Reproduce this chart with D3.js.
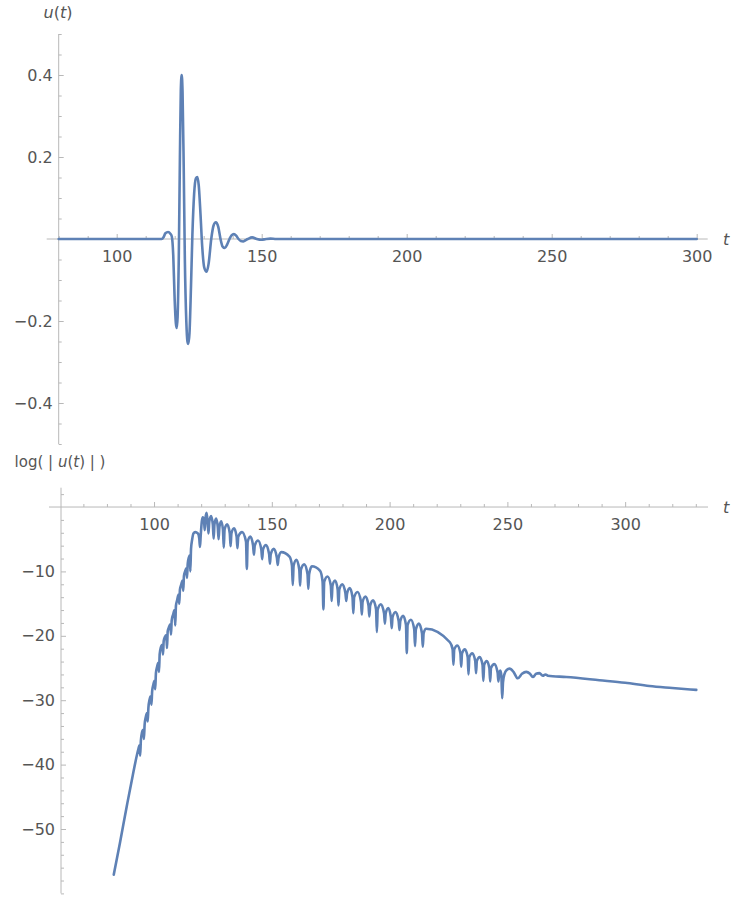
<!DOCTYPE html>
<html><head><meta charset="utf-8">
<script src="https://cdn.jsdelivr.net/npm/d3@7"></script>
<style>
html,body{margin:0;padding:0;background:#fff;}
svg{display:block;}
.tick text{font-family:"DejaVu Sans",sans-serif;font-size:16px;fill:#555;}
.lbl{font-family:"DejaVu Sans",sans-serif;font-size:16px;fill:#555;}
</style></head><body>
<svg id="chart" width="732" height="898"></svg>
<script>
// ---- data: u(t) (top panel) ----
const uPoints = [
  [80,0],[100,0],[115.5,0],[116.2,0.005],[116.8,0.014],[117.7,0.017],[118.5,0.013],[119.0,0.006],
  [119.5,-0.04],[120.0,-0.15],[120.4,-0.205],[120.7,-0.217],[121.0,-0.19],[121.4,-0.05],[121.8,0.2],
  [122.1,0.36],[122.4,0.40],[122.7,0.36],[123.1,0.18],[123.5,-0.05],[124.0,-0.2],[124.4,-0.25],
  [124.7,-0.256],[125.1,-0.23],[125.6,-0.12],[126.1,0.01],[126.7,0.11],[127.3,0.148],[127.8,0.151],
  [128.3,0.13],[128.9,0.06],[129.5,-0.02],[130.2,-0.07],[131.0,-0.08],[131.7,-0.06],[132.6,0.0],
  [133.4,0.033],[134.2,0.041],[135.0,0.03],[135.8,0.0],[136.5,-0.018],[137.3,-0.022],[138.1,-0.013],
  [138.9,0.0],[139.6,0.009],[140.4,0.012],[141.2,0.008],[142.0,0.0],[142.8,-0.005],[143.6,-0.006],
  [144.4,-0.003],[145.2,0.0],[146.7,0.004],[148.3,0.0],[149.9,-0.002],[151.5,0.0],[153,0.001],
  [155,0],[300,0]
];
// ---- data: log(|u(t)|) (bottom panel) ----
const logPoints = [
  [82.9,-57.1],[85.5,-52.2],[88.4,-46.5],[91.0,-41.6],[93.4,-37.5],[93.8,-37.0],[94.1,-38.6],[94.4,-36.3],
  [94.9,-35.0],[95.4,-34.6],[95.7,-36.0],[96.0,-33.8],[96.5,-32.6],[97.0,-32.0],[97.3,-33.3],[97.6,-31.2],
  [98.1,-29.9],[98.6,-29.4],[98.9,-30.7],[99.2,-28.6],[99.7,-27.6],[100.2,-27.0],[100.5,-28.3],[100.8,-25.8],
  [101.3,-24.8],[101.8,-24.2],[102.1,-25.6],[102.4,-22.8],[102.9,-21.8],[103.5,-21.4],[103.8,-22.9],[104.1,-20.8],
  [104.6,-20.2],[105.2,-19.9],[105.5,-21.9],[105.8,-19.3],[106.3,-18.7],[106.9,-18.2],[107.2,-19.8],[107.5,-17.6],
  [108.1,-16.7],[108.7,-16.0],[109.0,-18.4],[109.3,-15.3],[109.8,-14.5],[110.4,-13.6],[110.7,-15.0],[111.0,-12.8],
  [111.5,-12.1],[112.1,-11.4],[112.4,-13.0],[112.7,-10.7],[113.2,-10.0],[113.7,-9.5],[114.0,-11.0],[114.3,-8.8],
  [114.8,-7.8],[115.2,-7.5],[115.4,-10.0],[115.7,-6.5],[116.2,-5.0],[116.7,-4.1],[117.5,-3.9],[118.6,-4.1],
  [119.2,-4.9],[119.5,-6.2],[119.8,-4.5],[120.3,-2.2],[120.7,-1.6],[121.2,-2.0],[121.5,-3.6],[121.8,-1.8],
  [122.3,-0.9],[122.75,-2.3],[123.1,-4.1],[123.45,-2.3],[124.2,-1.4],
  [124.95,-2.7],[125.3,-4.9],[125.65,-2.7],[126.35,-1.8],
  [127.05,-3.1],[127.4,-5.0],[127.75,-3.1],[128.5,-2.2],
  [129.25,-3.5],[129.6,-6.3],[129.95,-3.5],[131.05,-2.7],
  [132.15,-4.1],[132.5,-6.1],[132.85,-4.1],[133.95,-3.3],
  [135.05,-4.6],[135.4,-6.4],[135.75,-4.6],[137.4,-3.9],
  [139.05,-5.4],[139.4,-9.6],[139.75,-5.4],[140.9,-4.6],
  [142.05,-6.0],[142.4,-7.4],[142.75,-6.0],[144.15,-5.2],
  [145.55,-6.6],[145.9,-8.1],[146.25,-6.6],[147.55,-5.9],
  [148.85,-7.3],[149.2,-8.8],[149.55,-7.3],[150.85,-6.5],
  [152.15,-7.9],[152.5,-9.0],[152.85,-7.9],[154.0,-7.0],[157.5,-7.7],
  [158.55,-9.1],[158.9,-12.1],[159.25,-9.1],[160.45,-8.2],
  [161.65,-9.7],[162.0,-12.2],[162.35,-9.7],[163.75,-8.9],
  [165.15,-10.4],[165.5,-12.7],[165.85,-10.4],[167.0,-9.2],[170.5,-9.9],
  [171.55,-11.6],[171.9,-15.9],[172.25,-11.6],[173.65,-10.8],
  [175.05,-12.2],[175.4,-14.6],[175.75,-12.2],[176.85,-11.4],
  [177.95,-12.8],[178.3,-15.3],[178.65,-12.8],[179.95,-12.0],
  [181.25,-13.4],[181.6,-14.6],[181.95,-13.4],[183.1,-12.6],
  [184.25,-14.0],[184.6,-16.5],[184.95,-14.0],[186.4,-13.2],
  [187.85,-14.7],[188.2,-16.7],[188.55,-14.7],[189.8,-13.9],
  [191.05,-15.3],[191.4,-17.0],[191.75,-15.3],[193.0,-14.5],
  [194.25,-15.9],[194.6,-19.4],[194.95,-15.9],[196.3,-15.1],
  [197.65,-16.5],[198.0,-18.1],[198.35,-16.5],[199.45,-15.7],
  [200.55,-17.1],[200.9,-18.8],[201.25,-17.1],[202.55,-16.3],
  [203.85,-17.7],[204.2,-19.1],[204.55,-17.7],[205.75,-16.9],
  [206.95,-18.3],[207.3,-22.7],[207.65,-18.3],[209.05,-17.5],
  [210.45,-19.0],[210.8,-21.6],[211.15,-19.0],[212.45,-18.1],
  [213.75,-19.6],[214.1,-21.7],[214.45,-19.6],[215.5,-18.9],[225.6,-21.0],
  [226.75,-22.1],[227.1,-24.5],[227.45,-22.1],[228.75,-21.5],
  [230.05,-22.7],[230.4,-24.8],[230.75,-22.7],[231.95,-22.1],
  [233.15,-23.3],[233.5,-26.0],[233.85,-23.3],[235.1,-22.7],
  [236.35,-23.9],[236.7,-25.8],[237.05,-23.9],[238.25,-23.3],
  [239.45,-24.5],[239.8,-27.0],[240.15,-24.5],[241.25,-23.9],
  [242.35,-25.0],[242.7,-27.1],[243.05,-25.0],[244.45,-24.4],
  [245.85,-25.7],[246.2,-27.1],[246.55,-25.7],[247.0,-25.4],
  [247.45,-26.2],[247.8,-29.7],[248.15,-27.2],[248.8,-25.9],[249.7,-25.3],[250.9,-25.1],
  [252.6,-25.6],[254.4,-26.6],[256.2,-25.9],[258.0,-25.6],[259.6,-25.9],[260.8,-26.4],
  [262.2,-25.9],[263.6,-25.8],[265.0,-26.2],[266.2,-26.0],[267.2,-26.2],[275.0,-26.4],
  [289.1,-26.9],[300.0,-27.3],[310.3,-27.8],[320.0,-28.1],[330.2,-28.4]
];
// ---- ticks ----
const topXMajor = [100,150,200,250,300];
const topXMinor = [80,90,110,120,130,140,160,170,180,190,210,220,230,240,260,270,280,290];
const topYMajor = [-0.4,-0.2,0.2,0.4];
const topYMinor = [-0.5,-0.45,-0.35,-0.3,-0.25,-0.15,-0.1,-0.05,0.05,0.1,0.15,0.25,0.3,0.35,0.45,0.5];
const botXMajor = [100,150,200,250,300];
const botXMinor = [70,80,90,110,120,130,140,160,170,180,190,210,220,230,240,260,270,280,290,310,320,330];
const botYMajor = [-50,-40,-30,-20,-10];
const botYMinor = [-60,-58,-56,-54,-52,-48,-46,-44,-42,-38,-36,-34,-32,-28,-26,-24,-22,-18,-16,-14,-12,-8,-6,-4,-2,2];

const svg = d3.select("#chart");
svg.append("rect").attr("width",732).attr("height",898).attr("fill","#fff");
const LINE = "#5E81B5", AX = "#b8b8b8";
const fmt = d => (d<0?"\u2212":"") + Math.abs(d);

function panel(cfg){
  const g = svg.append("g");
  const x = d3.scaleLinear().domain(cfg.xd).range(cfg.xr);
  const y = d3.scaleLinear().domain(cfg.yd).range(cfg.yr);
  const y0 = y(0), x0 = cfg.xr[0];
  // axis lines
  g.append("line").attr("x1",cfg.xr[0]-12).attr("x2",cfg.xr[1]+11).attr("y1",y0).attr("y2",y0)
    .attr("stroke",AX).attr("stroke-width",1);
  g.append("line").attr("x1",x0).attr("x2",x0).attr("y1",cfg.yr[0]).attr("y2",cfg.yr[1])
    .attr("stroke",AX).attr("stroke-width",1);
  // x ticks
  const xa = g.append("g").attr("transform",`translate(0,${y0})`)
    .call(d3.axisBottom(x).tickValues(cfg.xMajor).tickSize(-5).tickPadding(12).tickFormat(fmt));
  const xm = g.append("g").attr("transform",`translate(0,${y0})`)
    .call(d3.axisBottom(x).tickValues(cfg.xMinor).tickSize(-3).tickFormat(""));
  const ya = g.append("g").attr("transform",`translate(${x0},0)`)
    .call(d3.axisLeft(y).tickValues(cfg.yMajor).tickSize(-5).tickPadding(6).tickFormat(fmt));
  const ym = g.append("g").attr("transform",`translate(${x0},0)`)
    .call(d3.axisLeft(y).tickValues(cfg.yMinor).tickSize(-3).tickFormat(""));
  [xa,xm,ya,ym].forEach(a=>{ a.select(".domain").remove(); a.selectAll(".tick line").attr("stroke",AX); });
  [xa,ya].forEach(a=> a.selectAll(".tick text").attr("font-family",null).attr("font-size",null).attr("fill","#555"));
  // line
  const line = d3.line().x(d=>x(d[0])).y(d=>y(d[1])).curve(d3.curveMonotoneX);
  g.append("path").datum(cfg.data).attr("d",line).attr("fill","none")
    .attr("stroke",LINE).attr("stroke-width",2.6).attr("stroke-linejoin","round").attr("stroke-linecap","round");
  // t label
  g.append("text").attr("class","lbl").attr("x",723).attr("y",y0+6).attr("font-style","italic").text("t");
  return {x,y};
}

panel({xd:[80,300], xr:[58.7,696.7], yd:[-0.5,0.5], yr:[444,34], data:uPoints,
  xMajor:topXMajor, xMinor:topXMinor, yMajor:topYMajor, yMinor:topYMinor});
panel({xd:[60.5,330.5], xr:[61,697], yd:[-60,3], yr:[893.4,487.7], data:logPoints,
  xMajor:botXMajor, xMinor:botXMinor, yMajor:botYMajor, yMinor:botYMinor});

// axis titles
const t1 = svg.append("text").attr("class","lbl").attr("x",58).attr("y",17.5).attr("text-anchor","middle");
t1.append("tspan").attr("font-style","italic").text("u");
t1.append("tspan").text("(");
t1.append("tspan").attr("font-style","italic").text("t");
t1.append("tspan").text(")");
const t2 = svg.append("text").attr("class","lbl").attr("x",60).attr("y",467).attr("text-anchor","middle").style("font-size","15px");
t2.append("tspan").text("log( | ");
t2.append("tspan").attr("font-style","italic").text("u");
t2.append("tspan").text("(");
t2.append("tspan").attr("font-style","italic").text("t");
t2.append("tspan").text(") | )");
</script>
</body></html>
